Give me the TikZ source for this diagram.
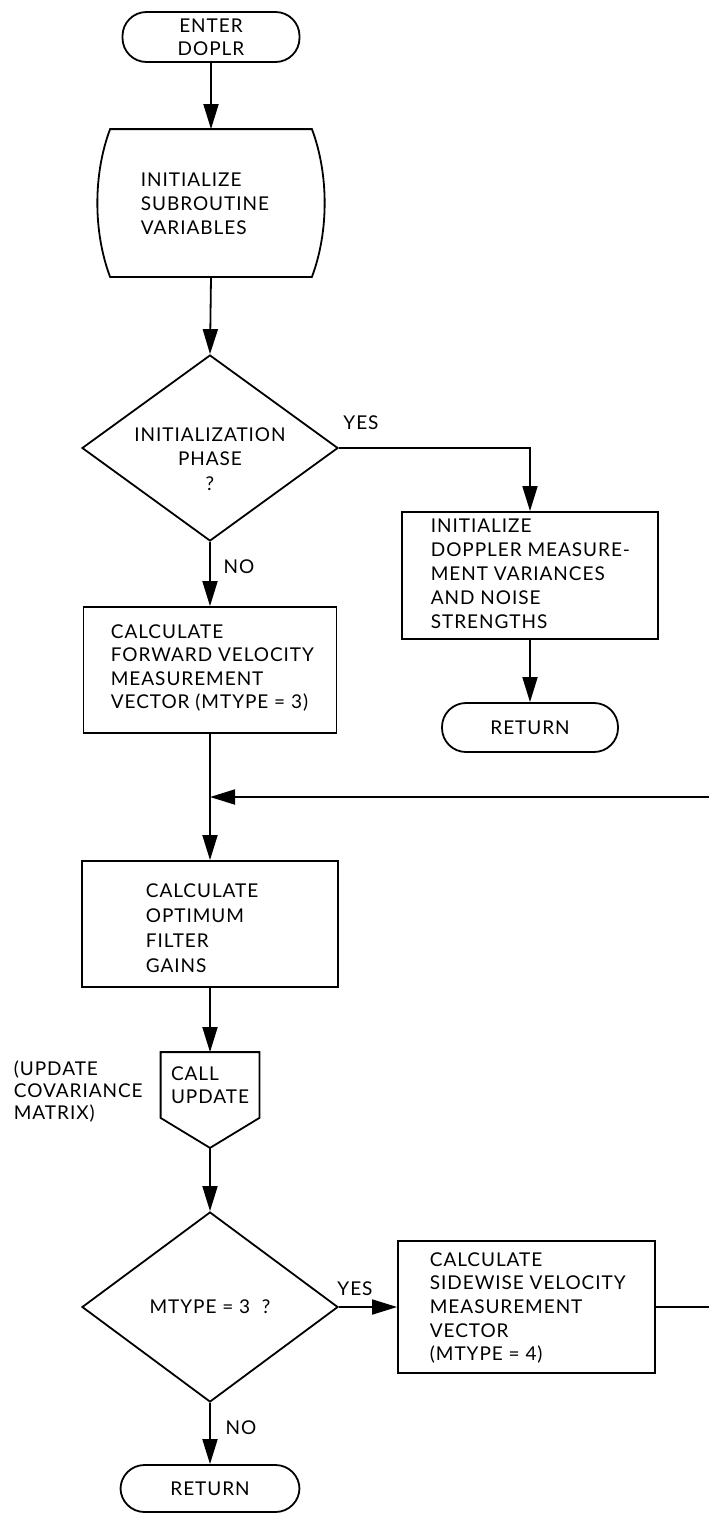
\documentclass[tikz,border=0pt]{standalone}
\usepackage{fontspec}
\setmainfont{Lato}[LetterSpace=5]
\usetikzlibrary{arrows.meta,shapes.geometric,calc}
\begin{document}
\begin{tikzpicture}[x=1pt,y=-1pt,
  font=\fontsize{19}{24}\selectfont,
  line width=1.8pt,
  flow/.style={-{Triangle[length=25pt,width=15pt]}},
  term/.style={draw, rounded corners=24pt, minimum height=49pt, inner sep=0pt, align=center},
  proc/.style={draw, inner sep=0pt},
  txt/.style={align=left, inner sep=0pt, anchor=west},
  decision/.style={draw, diamond, inner sep=0pt, minimum width=256pt, minimum height=188pt},
  lbl/.style={inner sep=0pt}
]
% page
\fill[white] (0,0) rectangle (709,1513);
\useasboundingbox (0,0) rectangle (709,1513);

% entry and initialisation
\node[term, minimum width=177pt, minimum height=50pt, font=\fontsize{19}{23}\selectfont] (enter) at (211,37) {ENTER\\DOPLR};
\node[minimum width=200pt, minimum height=146pt, inner sep=0pt] (init) at (211,203) {};
\draw ($(init.north west)$) -- ($(init.north east)$)
  .. controls ($(init.north east)+(17,45)$) and ($(init.south east)+(17,-45)$) .. ($(init.south east)$)
  -- ($(init.south west)$)
  .. controls ($(init.south west)+(-17,-45)$) and ($(init.north west)+(-17,45)$) .. ($(init.north west)$) -- cycle;
\node[txt] (initt) at (140,204) {INITIALIZE\\SUBROUTINE\\VARIABLES};

% initialization phase test
\node[decision, minimum height=186pt] (dec1) at (210,448) {};
\node[lbl, align=center, font=\fontsize{19}{24.5}\selectfont] (dec1t) at (210,459) {INITIALIZATION\\PHASE\\?};
\node[lbl] (yes1) at (361,423) {YES};
\node[lbl] (no1) at (239,567) {NO};

% initialization branch
\node[proc, minimum width=256pt, minimum height=127pt] (dop) at (530,575.5) {};
\node[txt] (dopt) at (430,574) {INITIALIZE\\DOPPLER MEASURE-\\MENT VARIANCES\\AND NOISE\\STRENGTHS};
\node[term, minimum width=176pt] (ret1) at (530,727.5) {RETURN};

% forward velocity measurement
\node[proc, minimum width=253pt, minimum height=126pt] (fwd) at (210,670) {};
\node[txt, font=\fontsize{19}{23.5}\selectfont] (fwdt) at (110,668) {CALCULATE\\FORWARD VELOCITY\\MEASUREMENT\\VECTOR (MTYPE = 3)};

% filter gains
\node[proc, minimum width=256pt, minimum height=126pt] (opt) at (210,924) {};
\node[txt, font=\fontsize{19}{25}\selectfont] (optt) at (145,928) {CALCULATE\\OPTIMUM\\FILTER\\GAINS};

% call to UPDATE
\node[minimum width=97pt, minimum height=64pt, inner sep=0pt, align=left, font=\fontsize{19}{23}\selectfont] (call) at (210,1085) {CALL\\UPDATE};
\coordinate (calltip) at ($(call.south)+(0,30)$);
\draw (call.north west) -- (call.north east) -- (call.south east) -- (calltip) -- (call.south west) -- cycle;
\node[txt, font=\fontsize{19}{22}\selectfont] (cov) at (13,1092) {(UPDATE\\COVARIANCE\\MATRIX)};

% measurement type test
\node[decision, minimum height=190pt] (dec2) at (210,1307) {MTYPE = 3 \ ?};
\node[lbl] (yes2) at (355,1289) {YES};
\node[lbl] (no2) at (241,1428) {NO};
\node[proc, minimum width=257pt, minimum height=132pt] (side) at (526.5,1307) {};
\node[txt, font=\fontsize{19}{23.7}\selectfont] (sidet) at (429,1308) {CALCULATE\\SIDEWISE VELOCITY\\MEASUREMENT\\VECTOR\\(MTYPE = 4)};
\node[term, minimum width=179pt, minimum height=47pt] (ret2) at (210,1488.5) {RETURN};

% loop back to the gain computation
\coordinate (join) at (210,797);
\coordinate (loopin) at (709,797);
\coordinate (loopout) at (709,1307);

% connectors
\draw[flow] (enter.south) -- (init.north);
\draw[flow] (init.south) -- (dec1.north);
\draw[flow] (dec1.south) -- (fwd.north);
\draw[flow] (dec1.east) -| (dop.north);
\draw[flow] (dop.south) -- (ret1.north);
\draw[flow] (fwd.south) -- (opt.north);
\draw[flow] (loopin) -- (join);
\draw[flow] (opt.south) -- (call.north);
\draw[flow] (calltip) -- (dec2.north);
\draw[flow] (dec2.east) -- (side.west);
\draw[flow] (dec2.south) -- (ret2.north);
\draw (side.east) -- (loopout);
\end{tikzpicture}
\end{document}
